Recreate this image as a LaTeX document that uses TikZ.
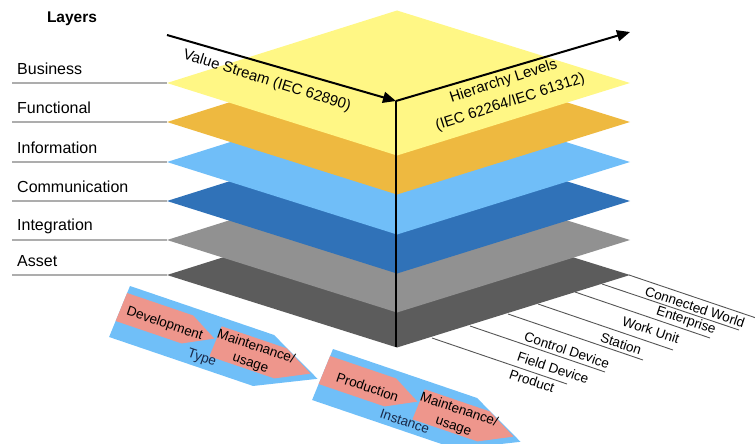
\documentclass[tikz,border=0pt]{standalone}
\usepackage{fontspec}
\setmainfont{Liberation Sans}
\usetikzlibrary{arrows.meta}

\definecolor{layYellow}{HTML}{FFF785}
\definecolor{layOrange}{HTML}{EEB940}
\definecolor{layLight}{HTML}{70BEF8}
\definecolor{layDark}{HTML}{3072B8}
\definecolor{layGray}{HTML}{919191}
\definecolor{layAsset}{HTML}{5C5C5C}
\definecolor{leadGray}{HTML}{ADADAD}
\definecolor{levGray}{HTML}{555555}
\definecolor{banBlue}{HTML}{70BFF8}
\definecolor{banPink}{HTML}{EE968C}
\definecolor{banInk}{HTML}{1A2A4A}

\begin{document}
\begin{tikzpicture}[x=1pt,y=-1pt,
  laylabel/.style={font=\fontsize{16}{18}\selectfont, anchor=west, inner sep=0pt},
  leader/.style={draw=leadGray, line width=1.5pt},
  axisline/.style={draw=black, line width=2pt, -{Triangle[length=13pt,width=11pt]}},
  axislabel/.style={font=\fontsize{15}{22}\selectfont, inner sep=0pt, align=center},
  levline/.style={draw=levGray, line width=0.9pt},
  levlabel/.style={font=\fontsize{13.5}{16}\selectfont, rotate=-18.5, inner sep=0pt},
  bantext/.style={font=\fontsize{13.5}{17}\selectfont, rotate=-18.8, inner sep=0pt, align=center},
]
\path[use as bounding box] (0,0) rectangle (755,444);
\clip (0,0) rectangle (755,444);

% ---- hierarchy level leaders along the front-right edge of the base layer
\coordinate (s1) at (432,338); \coordinate (e1) at (567,384);
\coordinate (s2) at (470,326); \coordinate (e2) at (605,372);
\coordinate (s3) at (508,314); \coordinate (e3) at (643,360);
\coordinate (s4) at (538,304); \coordinate (e4) at (673,350);
\coordinate (s5) at (575,292); \coordinate (e5) at (710,338);
\coordinate (s6) at (602,284); \coordinate (e6) at (739,330);
\coordinate (s7) at (629,275); \coordinate (e7) at (765,321);
\foreach \i in {1,...,7} { \draw[levline] (s\i) -- (e\i); }

\node[levlabel] (lvProduct) at (532,381) {Product};
\node[levlabel] (lvField)   at (553,368) {Field Device};
\node[levlabel] (lvControl) at (567,350) {Control Device};
\node[levlabel] (lvStation) at (621,344) {Station};
\node[levlabel] (lvWork)    at (651,330) {Work Unit};
\node[levlabel] (lvEnter)   at (686,321) {Enterprise};
\node[levlabel] (lvWorld)   at (695,307) {Connected World};

% ---- stacked layers, bottom first
\foreach \c/\col in {275/layAsset, 240/layGray, 201/layDark, 162/layLight, 122/layOrange, 83/layYellow} {
  \fill[\col] (167,\c) -- (397,\c-72.5) -- (630,\c) -- (397,\c+72.5) -- cycle;
}

% ---- layer names with leader lines to the left corners
\node[font=\bfseries\fontsize{15.5}{18}\selectfont] (title) at (72,19) {Layers};
\foreach \nm/\c/\t in {lBus/83/Business, lFun/122/Functional, lInf/162/Information,
                      lCom/201/Communication, lInt/240/Integration, lAss/275/Asset} {
  \coordinate (\nm a) at (12,\c);
  \coordinate (\nm b) at (167,\c);
  \draw[leader] (\nm a) -- (\nm b);
  \node[laylabel] (\nm) at (17,\c-14) {\t};
}

% ---- axes
\coordinate (vsStart) at (167,35);
\coordinate (origin) at (396,101);
\coordinate (hlEnd) at (630,32);
\coordinate (base) at (396,347);
\draw[axisline] (vsStart) -- (origin);
\draw[axisline] (origin) -- (hlEnd);
\draw[black, line width=2pt] (origin) -- (base);
\node[axislabel, rotate=-17.5] (vsLabel) at (267,81) {Value Stream (IEC 62890)};
\node[axislabel, rotate=18] (hlLabel) at (507,92) {Hierarchy Levels\\(IEC 62264/IEC 61312)};

% ---- life cycle banners (type, then instance)
\foreach \ox/\oy/\first/\kind/\nm in {130/286/Development/Type/bType, 333/349/Production/Instance/bInst} {
  \begin{scope}[shift={(\ox,\oy)}, x={(1pt,-0.34pt)}, y={(-0.41pt,-1pt)}]
    \fill[banBlue] (0,0) -- (144,0) -- (198,25.5) -- (144,51) -- (0,51) -- cycle;
    \fill[banPink] (0,7) -- (66,7) -- (93,21) -- (66,35) -- (0,35) -- cycle;
    \fill[banPink] (95,8) -- (160,8) -- (190,23) -- (160,38) -- (95,38) -- cycle;
    \node[bantext] (\nm A) at (44,23) {\first};
    \node[bantext] (\nm B) at (133,24) {Maintenance/\\usage};
    \node[bantext, text=banInk] (\nm C) at (89,42) {\kind};
  \end{scope}
}
\end{tikzpicture}
\end{document}
